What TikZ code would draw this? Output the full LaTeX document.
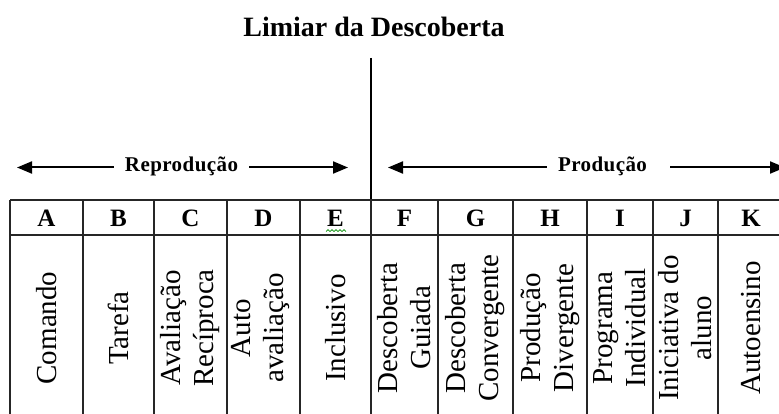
\documentclass[tikz,border=0pt]{standalone}
\usepackage{fontspec}
\setmainfont{Liberation Serif}
\newfontfamily\spacedbf[LetterSpace=2]{Liberation Serif}
\usetikzlibrary{arrows.meta}
\tikzstyle{title} = [font=\fontsize{28}{33}\selectfont\bfseries, anchor=base]
\tikzstyle{band} = [font=\fontsize{21}{25}\spacedbf\bfseries, inner xsep=11pt]
\tikzstyle{letter} = [font=\fontsize{25}{29}\selectfont\bfseries, anchor=base]
\tikzstyle{method} = [rotate=90, align=center, inner sep=0pt, font=\fontsize{29}{33}\selectfont]
\tikzstyle{rule} = [line width=1.3pt, draw=black!85]
\tikzstyle{arrow} = [line width=2pt, -{Triangle[length=15pt,width=12pt]}]
\begin{document}
\begin{tikzpicture}[x=1pt, y=-1pt]
    \useasboundingbox (0,0) rectangle (779,414);
    \clip (0,0) rectangle (779,414);
    % threshold
    \node (limiar) [title] at (374,37) {Limiar da Descoberta};
    \coordinate (limiarTop) at (371,58);
    \coordinate (limiarBot) at (371,200);
    \draw[line width=2pt] (limiarTop) -- (limiarBot);
    % the two groups
    \node (reprod) [band] at (181.5,166) {Reprodução};
    \coordinate (reprodL) at (17,167.5);
    \coordinate (reprodR) at (348,167.5);
    \draw[arrow] (reprod.west |- reprodL) -- (reprodL);
    \draw[arrow] (reprod.east |- reprodR) -- (reprodR);
    \node (prod) [band] at (602.5,166) {Produção};
    \coordinate (prodL) at (388,167.5);
    \coordinate (prodR) at (785,167.5);
    \draw[arrow] (prod.west |- prodL) -- (prodL);
    \draw[arrow] ([xshift=12pt]prod.east |- prodR) -- (prodR);
    % table
    \draw[rule] (10,200) -- (784,200) (10,235) -- (784,235);
    \draw[rule] (10,200) -- (10,420) (83,200) -- (83,420) (154,200) -- (154,420)
        (227,200) -- (227,420) (300,200) -- (300,420) (371,200) -- (371,420)
        (438,200) -- (438,420) (513,200) -- (513,420) (587,200) -- (587,420)
        (653,200) -- (653,420) (718,200) -- (718,420) (784,200) -- (784,420);
    \node (A) [letter] at (46.5,227) {A};
    \node (B) [letter] at (118.5,227) {B};
    \node (C) [letter] at (190.5,227) {C};
    \node (D) [letter] at (263.5,227) {D};
    \node (E) [letter] at (335.5,227) {E};
    \node (F) [letter] at (404.5,227) {F};
    \node (G) [letter] at (475.5,227) {G};
    \node (H) [letter] at (550,227) {H};
    \node (I) [letter] at (620,227) {I};
    \node (J) [letter] at (685.5,227) {J};
    \node (K) [letter] at (751,227) {K};
    \draw[green!55!black, line width=0.7pt] (326,231.5) -- (328,229.7) -- (330,231.5)
        -- (332,229.7) -- (334,231.5) -- (336,229.7) -- (338,231.5) -- (340,229.7)
        -- (342,231.5) -- (344,229.7) -- (346,231.5);
    \node (comando) [method] at (46.5,328) {Comando};
    \node (tarefa) [method] at (118.5,328) {Tarefa};
    \node (reciproca) [method] at (190.5,328) {Avaliação\\Recíproca};
    \node (auto) [method] at (261,328) {Auto\\avaliação};
    \node (inclusivo) [method] at (335.5,328) {Inclusivo};
    \node (guiada) [method] at (404.5,328) {Descoberta\\Guiada};
    \node (convergente) [method] at (475.5,328) {Descoberta\\Convergente};
    \node (divergente) [method] at (550,328) {Produção\\Divergente};
    \node (individual) [method] at (620,328) {Programa\\Individual};
    \node (iniciativa) [method] at (685.5,328) {Iniciativa do\\aluno};
    \node (autoensino) [method] at (751,328) {Autoensino};
\end{tikzpicture}
\end{document}
